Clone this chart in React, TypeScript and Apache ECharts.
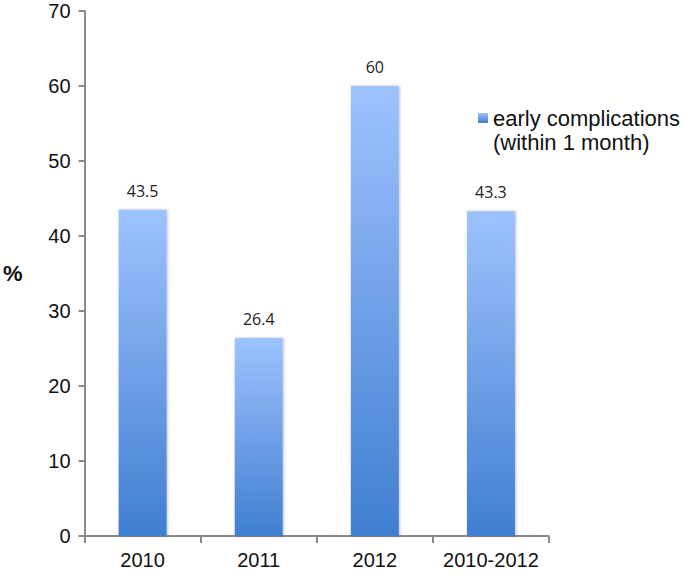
import React, { useEffect, useRef } from "react";
import * as echarts from "echarts";

const categories = ["2010", "2011", "2012", "2010-2012"];
const values = [43.5, 26.4, 60, 43.3];
const seriesName = "early complications\n(within 1 month)";
const yTicks = { min: 0, max: 70, interval: 10 };

export default function App() {
  const ref = useRef<HTMLDivElement>(null);
  useEffect(() => {
    if (!ref.current) return;
    const chart = echarts.init(ref.current, null, { renderer: "svg" });
    const axisColor = "#8a8a8a";
    const legendText = {
      fontFamily: "Liberation Sans",
      fontSize: 22,
      color: "#111",
      lineHeight: 24,
    };
    chart.setOption({
      animation: false,
      backgroundColor: "#ffffff",
      grid: { left: 72, right: 136, top: 11, bottom: 40, containLabel: false },
      legend: {
        data: [seriesName],
        left: 478,
        top: 82,
        padding: 0,
        icon: "rect",
        itemWidth: 10,
        itemHeight: 10,
        itemGap: 5,
        formatter: (name: string) =>
          "{s| }\n" +
          name
            .split("\n")
            .map((l) => "{a|" + l + "}")
            .join("\n"),
        textStyle: {
          ...legendText,
          rich: { a: legendText, s: legendText },
        },
      },
      xAxis: {
        type: "category",
        data: categories,
        axisLine: { lineStyle: { color: axisColor, width: 2 } },
        axisTick: { show: true, interval: 0, length: 7, lineStyle: { color: axisColor, width: 2 } },
        axisLabel: {
          interval: 0,
          hideOverlap: false,
          fontFamily: "Liberation Sans",
          fontSize: 20,
          color: "#111",
          margin: 14,
        },
      },
      yAxis: {
        type: "value",
        min: yTicks.min,
        max: yTicks.max,
        interval: yTicks.interval,
        name: "%",
        nameLocation: "middle",
        nameRotate: 0,
        nameGap: 62,
        nameTextStyle: {
          fontFamily: "Liberation Sans",
          fontSize: 22,
          fontWeight: "bold",
          color: "#111",
        },
        axisLine: { show: true, lineStyle: { color: axisColor, width: 2 } },
        axisTick: { show: true, length: 6, lineStyle: { color: axisColor, width: 2 } },
        splitLine: { show: false },
        axisLabel: {
          fontFamily: "Liberation Sans",
          fontSize: 20,
          color: "#111",
          margin: 14,
        },
      },
      series: [
        {
          name: seriesName,
          type: "bar",
          data: values,
          barWidth: 48,
          itemStyle: {
            color: new echarts.graphic.LinearGradient(0, 0, 0, 1, [
              { offset: 0, color: "#9dc3ff" },
              { offset: 0.35, color: "#7eaaee" },
              { offset: 1, color: "#3f7fd0" },
            ]),
            shadowColor: "rgba(0,0,0,0.25)",
            shadowBlur: 3,
            shadowOffsetX: 1,
          },
          label: {
            show: true,
            position: "top",
            distance: 11,
            fontFamily: "Open Sans",
            fontSize: 16,
            color: "#222",
          },
        },
      ],
    });
    return () => chart.dispose();
  }, []);
  return (
    <div
      ref={ref}
      style={{ position: "absolute", left: 0, top: 0, width: 685, height: 576 }}
    />
  );
}
